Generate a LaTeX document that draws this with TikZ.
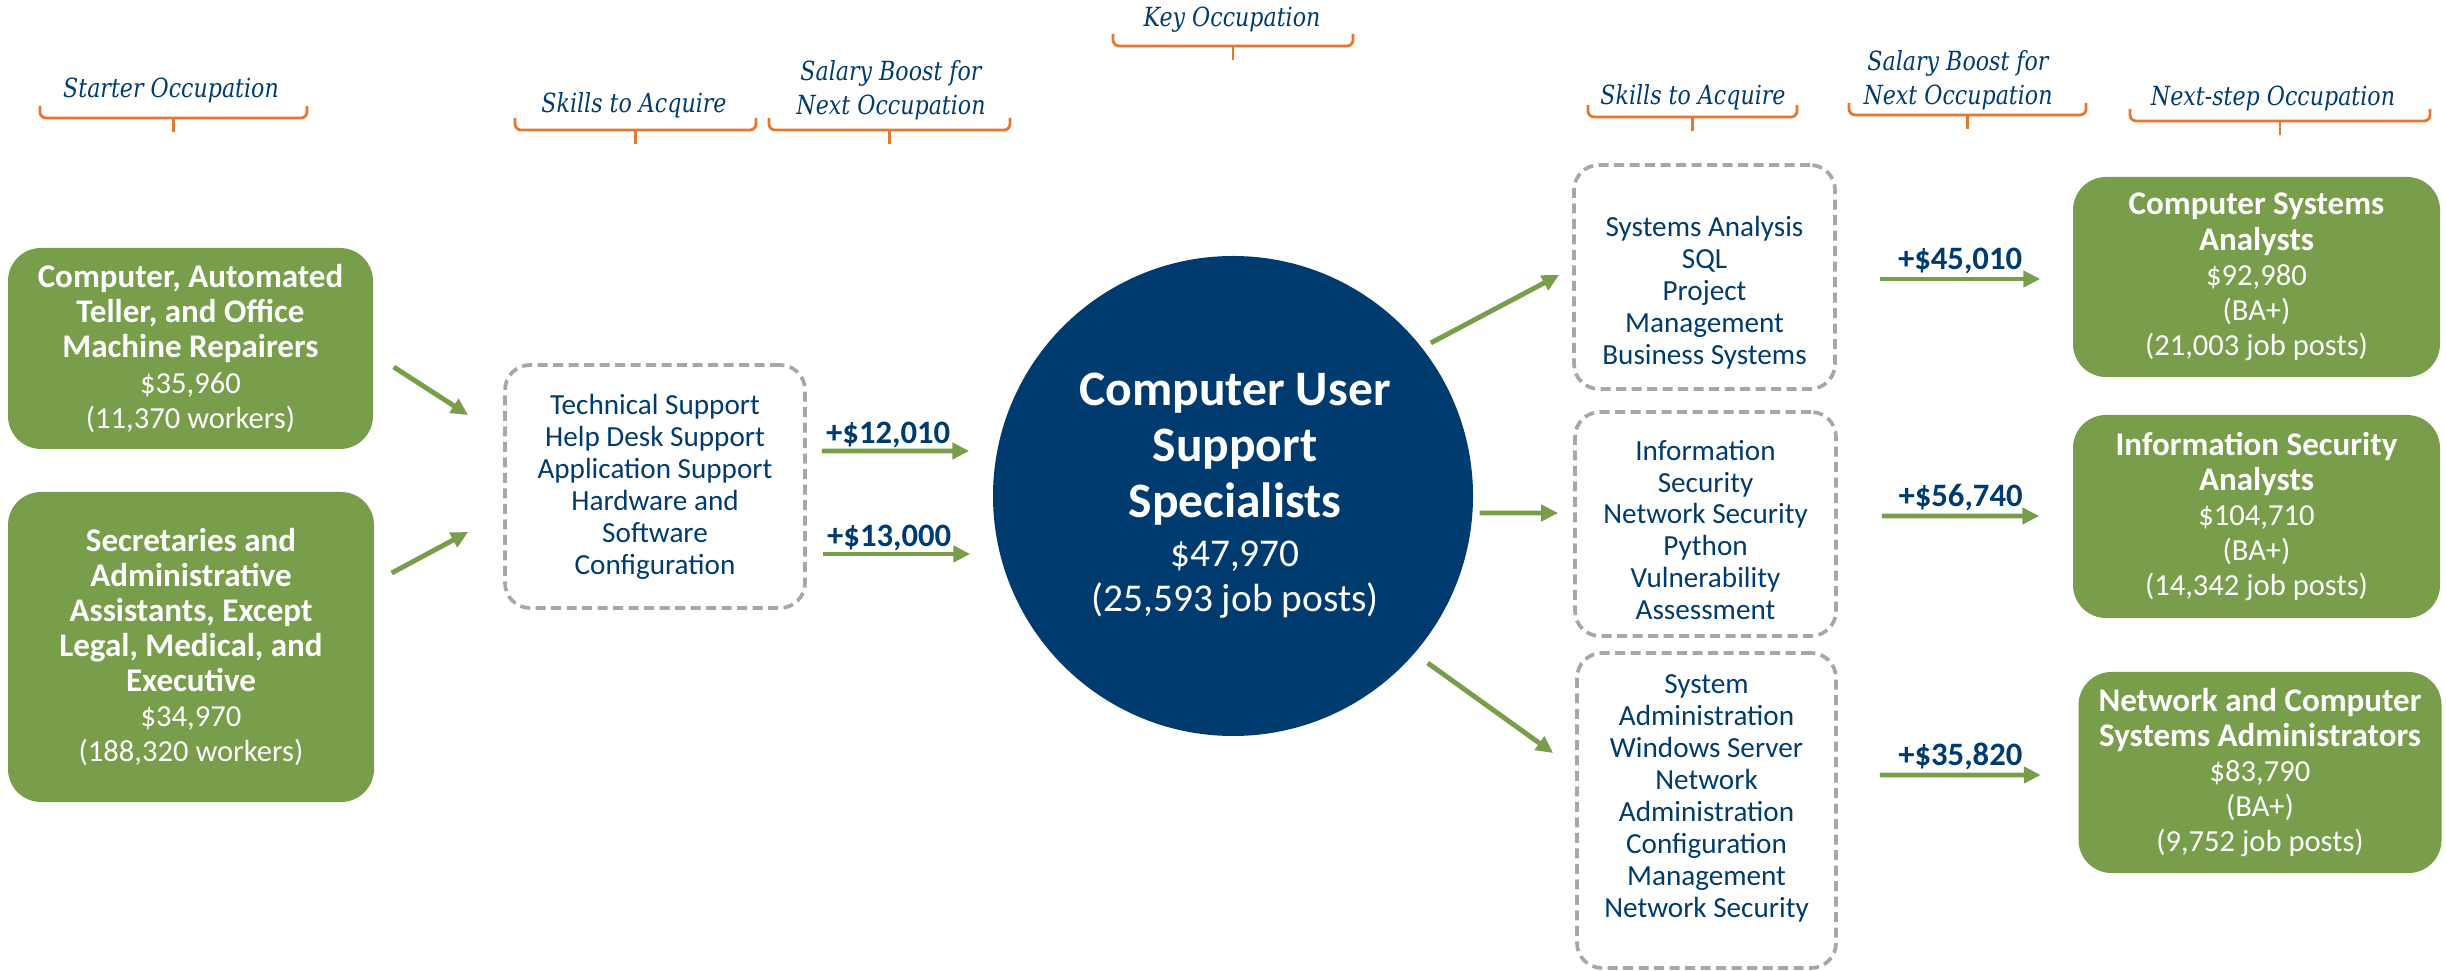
\documentclass[tikz,border=0pt]{standalone}
\usepackage{fontspec}
\usepackage{xcolor}
\usepackage{tikz}
\usetikzlibrary{arrows.meta}
\newfontfamily\bodyfont{Carlito}
\newfontfamily\headfont[FakeStretch=0.84]{DejaVu Serif}
\definecolor{navy}{HTML}{003B70}
\definecolor{leaf}{HTML}{799E4B}
\definecolor{rust}{HTML}{E5772F}
\definecolor{ash}{HTML}{A7A7A7}
\newcommand{\occb}[1]{{\bfseries\fontsize{9.4}{10}\selectfont #1}}
\tikzset{
  occ/.style={fill=leaf, rounded corners=3.3mm, text=white, align=center, inner sep=0pt,
    font=\bodyfont\fontsize{8.7}{10}\selectfont},
  skillbox/.style={draw=ash, line width=1.05pt, dash pattern=on 1mm off 0.55mm, rounded corners=2.5mm},
  skilltxt/.style={text=navy, align=center, font=\bodyfont\fontsize{8.3}{9.1}\selectfont},
  keycirc/.style={circle, fill=navy, minimum size=4.8cm, inner sep=0pt},
  keytitle/.style={text=white, align=center, font=\bodyfont\bfseries\fontsize{14.1}{16}\selectfont},
  keynum/.style={text=white, align=center, font=\bodyfont\fontsize{11.2}{12.8}\selectfont},
  move/.style={draw=leaf, line width=1.4pt, -{Triangle[length=1.7mm,width=1.6mm]}},
  boost/.style={text=navy, inner sep=0pt, font=\bodyfont\bfseries\fontsize{9.3}{11}\selectfont},
  head/.style={text=navy, align=center, font=\headfont\itshape\fontsize{7.5}{9.7}\selectfont},
  brace/.style={draw=rust, line width=0.8pt, rounded corners=0.6mm},
}

\begin{document}
\begin{tikzpicture}
  \useasboundingbox (0,0) rectangle (24.46,9.70);

  % column heads
  \node[head] (hstart) at (1.71,8.80) {Starter Occupation};
  \node[head] (hskilla) at (6.34,8.65) {Skills to Acquire};
  \node[head] (hboosta) at (8.91,8.80) {Salary Boost for\\Next Occupation};
  \node[head] (hkey) at (12.32,9.50) {Key Occupation};
  \node[head] (hskillb) at (16.93,8.73) {Skills to Acquire};
  \node[head] (hboostb) at (19.58,8.90) {Salary Boost for\\Next Occupation};
  \node[head] (hnext) at (22.73,8.72) {Next-step Occupation};
  \foreach \xl/\xr/\yh in {0.40/3.07/8.52, 5.15/7.56/8.40, 7.69/10.10/8.40, 11.13/13.53/9.24,
                           15.88/17.97/8.53, 18.49/20.86/8.55, 21.30/24.30/8.49}{
    \draw[brace] (\xl,\yh+0.12) -- (\xl,\yh) -- (\xr,\yh) -- (\xr,\yh+0.12);
    \draw[brace] ({(\xl+\xr)/2},\yh) -- ++(0,-0.14);
  }

  % starter occupations
  \node[occ, minimum width=3.65cm, minimum height=2.01cm] (starta) at (1.905,6.215)
    {\occb{Computer, Automated}\\\occb{Teller, and Office}\\\occb{Machine Repairers}\\\$35,960\\(11,370 workers)};
  \node[occ, minimum width=3.66cm, minimum height=3.10cm] (startb) at (1.91,3.23)
    {\occb{Secretaries and}\\\occb{Administrative}\\\occb{Assistants, Except}\\\occb{Legal, Medical, and}\\\occb{Executive}\\\$34,970\\(188,320 workers)};

  % skills to reach the key occupation
  \node[skillbox, minimum width=3.00cm, minimum height=2.43cm] (skilla) at (6.55,4.835) {};
  \node[skilltxt] at (skilla.center)
    {Technical Support\\Help Desk Support\\Application Support\\Hardware and\\Software\\Configuration};

  % key occupation
  \node[keycirc] (key) at (12.33,4.74) {};
  \node[keytitle] (keyt) at (12.35,5.21) {Computer User\\Support\\Specialists};
  \node[keynum] (keyn) at (12.35,3.90) {\$47,970\\(25,593 job posts)};

  % skills to reach the next step
  \node[skillbox, minimum width=2.61cm, minimum height=2.24cm] (skillb) at (17.045,6.93) {};
  \node[skilltxt] at ([yshift=-1.6mm]skillb.center)
    {Systems Analysis\\SQL\\Project\\Management\\Business Systems};
  \node[skillbox, minimum width=2.61cm, minimum height=2.24cm] (skillc) at (17.055,4.46) {};
  \node[skilltxt] at ([yshift=-0.6mm]skillc.center)
    {Information\\Security\\Network Security\\Python\\Vulnerability\\Assessment};
  \node[skillbox, minimum width=2.59cm, minimum height=3.15cm] (skilld) at (17.065,1.595) {};
  \node[skilltxt] at ([yshift=1.2mm]skilld.center)
    {System\\Administration\\Windows Server\\Network\\Administration\\Configuration\\Management\\Network Security};

  % next-step occupations
  \node[occ, minimum width=3.67cm, minimum height=2.00cm] (nexta) at (22.565,6.93)
    {\occb{Computer Systems}\\\occb{Analysts}\\\$92,980\\(BA+)\\(21,003 job posts)};
  \node[occ, minimum width=3.67cm, minimum height=2.03cm] (nextb) at (22.565,4.535)
    {\occb{Information Security}\\\occb{Analysts}\\\$104,710\\(BA+)\\(14,342 job posts)};
  \node[occ, minimum width=3.63cm, minimum height=2.01cm] (nextc) at (22.60,1.975)
    {\occb{Network and Computer}\\\occb{Systems Administrators}\\\$83,790\\(BA+)\\(9,752 job posts)};

  % moves
  \draw[move] ([shift={(0.20,-0.185)}]starta.east) -- ([shift={(-0.35,0.715)}]skilla.west);
  \draw[move] ([shift={(0.17,0.74)}]startb.east) -- ([shift={(-0.35,-0.455)}]skilla.west);
  \draw[move] ([shift={(0.15,0.355)}]skilla.east) -- ([shift={(-0.23,0.45)}]key.west)
    node[boost, pos=0.45, above=0.1mm] {+\$12,010};
  \draw[move] ([shift={(0.16,-0.675)}]skilla.east) -- ([shift={(-0.22,-0.58)}]key.west)
    node[boost, pos=0.45, above=0.1mm] {+\$13,000};
  \draw[move] ([shift={(-0.43,1.53)}]key.east) -- ([shift={(-0.13,0.02)}]skillb.west);
  \draw[move] ([shift={(0.06,-0.17)}]key.east) -- ([shift={(-0.15,0.11)}]skillc.west);
  \draw[move] ([shift={(-0.46,-1.67)}]key.east) -- ([shift={(-0.22,0.575)}]skilld.west);
  \draw[move] ([shift={(0.43,-0.02)}]skillb.east) -- ([shift={(-0.32,-0.02)}]nexta.west)
    node[boost, midway, above=0.3mm] {+\$45,010};
  \draw[move] ([shift={(0.44,0.08)}]skillc.east) -- ([shift={(-0.33,0.005)}]nextb.west)
    node[boost, midway, above=0.3mm] {+\$56,740};
  \draw[move] ([shift={(0.42,0.355)}]skilld.east) -- ([shift={(-0.37,-0.025)}]nextc.west)
    node[boost, midway, above=0.3mm] {+\$35,820};
\end{tikzpicture}
\end{document}
